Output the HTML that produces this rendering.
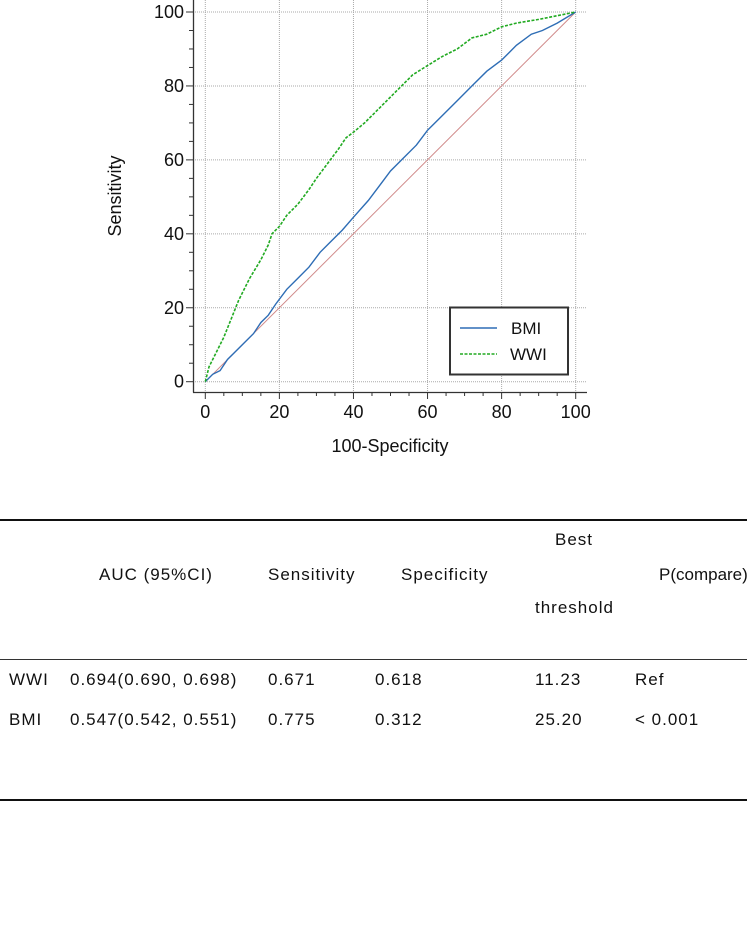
<!DOCTYPE html>
<html><head><meta charset="utf-8"><style>
html,body{margin:0;padding:0;background:#fff;width:747px;height:944px;overflow:hidden;font-family:"Liberation Sans",Arial,sans-serif;}
.t{position:absolute;font-size:17px;letter-spacing:1px;color:#111;white-space:nowrap;line-height:22px;}
.ln{position:absolute;left:0;width:747px;background:#111;}
</style></head><body>
<svg id="chart" width="747" height="470" style="position:absolute;left:0;top:0" font-family="Liberation Sans, Arial, sans-serif"></svg>

<div class="ln" style="top:519px;height:2px"></div>
<div class="ln" style="top:659px;height:1px;background:#333"></div>
<div class="ln" style="top:799px;height:2px"></div>

<div class="t" style="left:99px;top:564px">AUC (95%CI)</div>
<div class="t" style="left:268px;top:564px">Sensitivity</div>
<div class="t" style="left:401px;top:564px">Specificity</div>
<div class="t" style="left:555px;top:529px">Best</div>
<div class="t" style="left:535px;top:597px">threshold</div>
<div class="t" style="left:659px;top:564px;letter-spacing:0">P(compare)</div>

<div class="t" style="left:9px;top:669px">WWI</div>
<div class="t" style="left:70px;top:669px">0.694(0.690, 0.698)</div>
<div class="t" style="left:268px;top:669px">0.671</div>
<div class="t" style="left:375px;top:669px">0.618</div>
<div class="t" style="left:535px;top:669px">11.23</div>
<div class="t" style="left:635px;top:669px">Ref</div>

<div class="t" style="left:9px;top:709px">BMI</div>
<div class="t" style="left:70px;top:709px">0.547(0.542, 0.551)</div>
<div class="t" style="left:268px;top:709px">0.775</div>
<div class="t" style="left:375px;top:709px">0.312</div>
<div class="t" style="left:535px;top:709px">25.20</div>
<div class="t" style="left:635px;top:709px">&lt; 0.001</div>

<script>
const ticks=[0,20,40,60,80,100];
const wwiX=[0,1,3,5,7,9,12,15,17,18,20,22,25,28,30,33,36,38,40,43,46,50,53,56,60,64,68,72,76,80,84,90,95,100];
const wwiY=[0,4,8,12,17,22,28,33,37,40,42,45,48,52,55,59,63,66,67.5,70,73,77,80,83,85.5,88,90,93,94,96,97,98,99,100];
const bmiX=[0,2,4,6,8,10,13,15,17,19,22,25,28,31,33,37,40,44,47,50,53,57,60,64,68,72,76,80,84,88,91,95,100];
const bmiY=[0,2,3,6,8,10,13,16,18,21,25,28,31,35,37,41,44.5,49,53,57,60,64,68,72,76,80,84,87,91,94,95,97,100];
const svg=document.getElementById('chart');
const NS='http://www.w3.org/2000/svg';
const X=v=>205.3+v*3.704, Y=v=>381.7-v*3.697;
function mk(tag,attrs,parent){const e=document.createElementNS(NS,tag);for(const k in attrs)e.setAttribute(k,attrs[k]);(parent||svg).appendChild(e);return e;}
ticks.forEach(t=>{
 const g1=mk('line',{x1:X(t),x2:X(t),y1:0,y2:392,stroke:'#aaa','stroke-dasharray':'1,1'});
 
 
 const g2=mk('line',{x1:193,x2:587,y1:Y(t),y2:Y(t),stroke:'#aaa','stroke-dasharray':'1,1'});
 
 
});
const ax=mk('line',{x1:193.5,x2:193.5,y1:0,y2:392.5,stroke:'#333','stroke-width':1.3});


const ax2=mk('line',{x1:193,x2:587,y1:392.5,y2:392.5,stroke:'#333','stroke-width':1.3});


for(let v=0;v<=100;v+=5){
 const big=v%20===0;
 const tx=mk('line',{x1:X(v),x2:X(v),y1:392,y2:big?399:396,stroke:'#333'});
 
 
 const ty=mk('line',{x1:big?186:189,x2:193,y1:Y(v),y2:Y(v),stroke:'#333'});
 
 
}
ticks.forEach(t=>{
 const a=mk('text',{x:X(t),y:418,'text-anchor':'middle','font-size':18,fill:'#111'});a.textContent=t;
 
 
 const b=mk('text',{x:184,y:Y(t)+6,'text-anchor':'end','font-size':18,fill:'#111'});b.textContent=t;
 
 
});
const xt=mk('text',{x:390,y:452,'text-anchor':'middle','font-size':18,fill:'#111'});xt.textContent='100-Specificity';


const yt=mk('text',{x:0,y:0,'text-anchor':'middle','font-size':18,fill:'#111',transform:'translate(121,196) rotate(-90)'});yt.textContent='Sensitivity';


const d=mk('line',{x1:X(0),y1:Y(0),x2:X(100),y2:Y(100),stroke:'#d08a8a','stroke-width':1});


function pts(xs,ys){return xs.map((x,i)=>X(x).toFixed(1)+','+Y(ys[i]).toFixed(1)).join(' ');}
const b=mk('polyline',{points:pts(bmiX,bmiY),fill:'none',stroke:'#2e6db5','stroke-width':1.4});


const w=mk('polyline',{points:pts(wwiX,wwiY),fill:'none',stroke:'#22aa22','stroke-width':1.6,'stroke-dasharray':'3,1.5'});


const lg=mk('rect',{x:450,y:307.5,width:118,height:67,fill:'#fff',stroke:'#333','stroke-width':2});


const l1=mk('line',{x1:460,x2:497,y1:328,y2:328,stroke:'#2e6db5','stroke-width':1.4});


const l2=mk('line',{x1:460,x2:497,y1:354,y2:354,stroke:'#22aa22','stroke-width':1.6,'stroke-dasharray':'3,1.5'});


const t1=mk('text',{x:511,y:334,'font-size':17,fill:'#111'});t1.textContent='BMI';


const t2=mk('text',{x:510,y:360,'font-size':17,fill:'#111'});t2.textContent='WWI';


</script>
</body></html>
